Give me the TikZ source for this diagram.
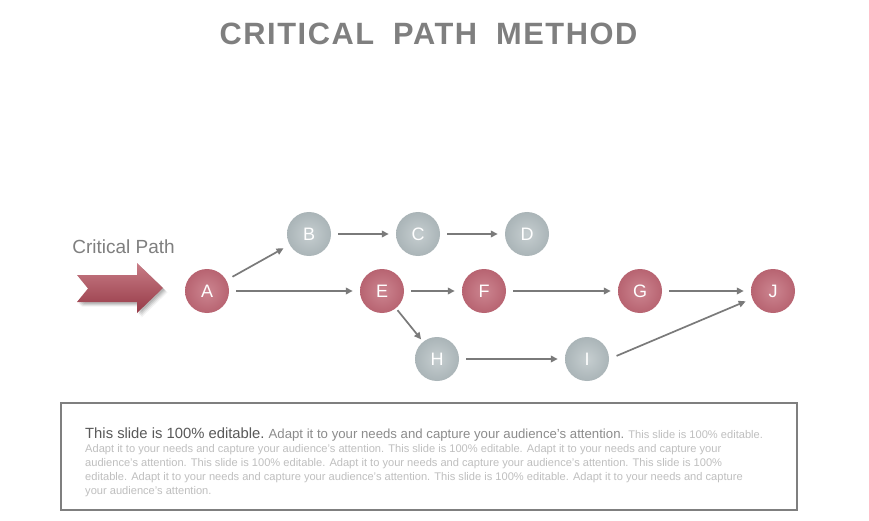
\documentclass[tikz,border=0pt]{standalone}
\usepackage{fontspec}
\setmainfont{Liberation Sans}
\newfontfamily\titlefont[LetterSpace=5]{Liberation Sans}
\usetikzlibrary{arrows.meta,calc}
\definecolor{redin}{HTML}{CC8590}
\definecolor{redout}{HTML}{A34252}
\definecolor{grayin}{HTML}{C6CED0}
\definecolor{grayout}{HTML}{8E9B9F}
\definecolor{linegray}{HTML}{7A7A7A}
\definecolor{titlegray}{HTML}{7F7F7F}
\definecolor{txtdark}{HTML}{595959}
\definecolor{txtmid}{HTML}{8C8C8C}
\definecolor{txtlight}{HTML}{BFBFBF}
\definecolor{chevtop}{HTML}{C87C86}
\definecolor{chevbot}{HTML}{963A47}
\pgfdeclareradialshading{redball}{\pgfpoint{0bp}{0bp}}{color(0bp)=(redin); color(50bp)=(redout)}
\pgfdeclareradialshading{grayball}{\pgfpoint{0bp}{0bp}}{color(0bp)=(grayin); color(50bp)=(grayout)}
\tikzset{
  ball/.style={circle, minimum size=44pt, inner sep=0pt, text=white, font=\fontsize{18}{18}\selectfont},
  redball/.style={ball, shading=redball},
  grayball/.style={ball, shading=grayball},
  conn/.style={draw=linegray, line width=1.7pt, -{Triangle[length=7pt,width=6.5pt]}, shorten >=7pt, shorten <=7pt},
  bodytxt/.style={anchor=base west, inner sep=0pt, text=txtlight, font=\fontsize{11.1}{12}\selectfont},
}
\begin{document}
\begin{tikzpicture}[x=1pt,y=-1pt]
\useasboundingbox (0,0) rectangle (869,521);
\fill[white] (0,0) rectangle (869,521);
% title
\node[text=titlegray, font=\titlefont\bfseries\fontsize{30.8}{30}\selectfont, inner sep=0pt] (title) at (428.5,34) {CRITICAL\hspace{9pt} PATH\hspace{9pt} METHOD};
% critical path label and chevron
\node[text=titlegray, font=\fontsize{19}{19}\selectfont, inner sep=0pt] (cplabel) at (123.5,247) {Critical Path};
\foreach \s/\o in {4.5/0.05,3.5/0.07,2.5/0.09,1.5/0.1}{
  \fill[black, opacity=\o] ($(0,0)+(\s,\s)$) ++(77,275) -- ++(60,0) -- ++(0,-12) -- ++(26,25) -- ++(-26,25) -- ++(0,-11) -- ++(-60,0) -- ++(11,-13.5) -- cycle;
}
\path[top color=chevtop, bottom color=chevbot]
  (77,275) -- (137,275) -- (137,263) -- (163,288) -- (137,313) -- (137,302) -- (77,302) -- (88,288.5) -- cycle;
% nodes
\node[redball]  (A) at (207,291) {A};
\node[grayball] (B) at (309,234) {B};
\node[grayball] (C) at (418,234) {C};
\node[grayball] (D) at (527,234) {D};
\node[redball]  (E) at (382,291) {E};
\node[redball]  (F) at (484,291) {F};
\node[redball]  (G) at (640,291) {G};
\node[redball]  (J) at (773,291) {J};
\node[grayball] (H) at (437,359) {H};
\node[grayball] (I) at (587,359) {I};
% connectors
\draw[conn] (A) -- (B);
\draw[conn] (B) -- (C);
\draw[conn] (C) -- (D);
\draw[conn] (A) -- (E);
\draw[conn] (E) -- (F);
\draw[conn] (F) -- (G);
\draw[conn] (G) -- (J);
\draw[conn, shorten <=2.5pt, shorten >=3pt] (E) -- (H);
\draw[conn] (H) -- (I);
\draw[conn, shorten <=8pt, shorten >=7pt] (I.0) -- (J.200);
% text box
\node[draw=titlegray, line width=1.8pt, minimum width=736pt, minimum height=107pt, anchor=north west, inner sep=0pt] (box) at (60,402) {};
\node[bodytxt] (l1) at (85,438) {{\color{txtdark}\fontsize{14.8}{14}\selectfont This slide is 100\% editable.} {\color{txtmid}\fontsize{13.2}{13}\selectfont Adapt it to your needs and capture your audience's attention.} This slide is 100\% editable.};
\node[bodytxt] (l2) at (85,452) {Adapt it to your needs and capture your audience's attention. This slide is 100\% editable. Adapt it to your needs and capture your};
\node[bodytxt] (l3) at (85,466) {audience's attention. This slide is 100\% editable. Adapt it to your needs and capture your audience's attention. This slide is 100\%};
\node[bodytxt] (l4) at (85,480) {editable. Adapt it to your needs and capture your audience's attention. This slide is 100\% editable. Adapt it to your needs and capture};
\node[bodytxt] (l5) at (85,494) {your audience's attention.};
\end{tikzpicture}
\end{document}
